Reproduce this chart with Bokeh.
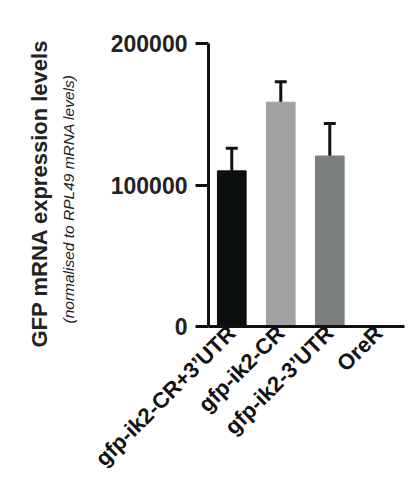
import math
from bokeh.plotting import figure
from bokeh.models import Range1d, FixedTicker, Whisker, TeeHead, ColumnDataSource, Title
from bokeh.embed import file_html
from bokeh.resources import INLINE

categories = ["gfp-ik2-CR+3\u2019UTR", "gfp-ik2-CR", "gfp-ik2-3\u2019UTR", "OreR"]
means = [110000, 158500, 120500, 0]
errors = [16000, 14500, 23000, 0]
bar_colors = ["#0b0f0f", "#a1a1a3", "#7b807f", "#7b807f"]
y_ticks = [0, 100000, 200000]
y_tick_labels = ["0", "100000", "200000"]

xs = list(range(len(categories)))

p = figure(width=406, height=484, output_backend="svg", toolbar_location=None,
           x_range=Range1d(-0.475, 3.525), y_range=Range1d(0, 200000),
           min_border_left=208, min_border_right=2, min_border_top=43, min_border_bottom=158)
p.outline_line_color = None
p.xgrid.visible = False
p.ygrid.visible = False

src = ColumnDataSource(dict(x=xs, top=means, color=bar_colors))
p.vbar(x="x", top="top", width=0.585, color="color", source=src)

ex = [x for x, e in zip(xs, errors) if e > 0]
elo = [m for m, e in zip(means, errors) if e > 0]
ehi = [m + e for m, e in zip(means, errors) if e > 0]
esrc = ColumnDataSource(dict(x=ex, lower=elo, upper=ehi))
w = Whisker(base="x", lower="lower", upper="upper", source=esrc, dimension="height",
            line_width=3, line_color="#111111",
            upper_head=TeeHead(size=12, line_width=3, line_color="#111111"), lower_head=None)
p.add_layout(w)

# y axis
ya = p.yaxis[0]
ya.ticker = FixedTicker(ticks=y_ticks)
ya.major_label_overrides = {t: l for t, l in zip(y_ticks, y_tick_labels)}
ya.minor_tick_line_color = None
ya.axis_line_width = 3
ya.axis_line_color = "#111111"
ya.major_tick_line_width = 3
ya.major_tick_line_color = "#111111"
ya.major_tick_out = 13
ya.major_tick_in = 0
ya.major_label_standoff = 8
ya.major_label_text_font = "Liberation Sans"
ya.major_label_text_font_style = "bold"
ya.major_label_text_font_size = "23px"
ya.major_label_text_color = "#222222"

p.add_layout(Title(text="(normalised to RPL49 mRNA levels)", align="left", offset=3,
                   text_font="Liberation Sans", text_font_style="italic",
                   text_font_size="15.5px", text_color="#222222", standoff=61), "left")
p.add_layout(Title(text="GFP mRNA expression levels", align="left", offset=-21,
                   text_font="Liberation Sans", text_font_style="bold",
                   text_font_size="22px", text_color="#222222", standoff=-48), "left")

# x axis
xa = p.xaxis[0]
xa.ticker = FixedTicker(ticks=xs)
xa.major_label_overrides = {x: c for x, c in zip(xs, categories)}
xa.minor_tick_line_color = None
xa.major_tick_line_color = None
xa.major_tick_out = 0
xa.axis_line_width = 3
xa.axis_line_color = "#111111"
xa.major_label_orientation = math.pi / 4
xa.major_label_standoff = 3
xa.major_label_text_font = "Liberation Sans"
xa.major_label_text_font_style = "bold"
xa.major_label_text_font_size = "22px"
xa.major_label_text_color = "#111111"

open("out.html", "w").write(file_html(p, INLINE))
